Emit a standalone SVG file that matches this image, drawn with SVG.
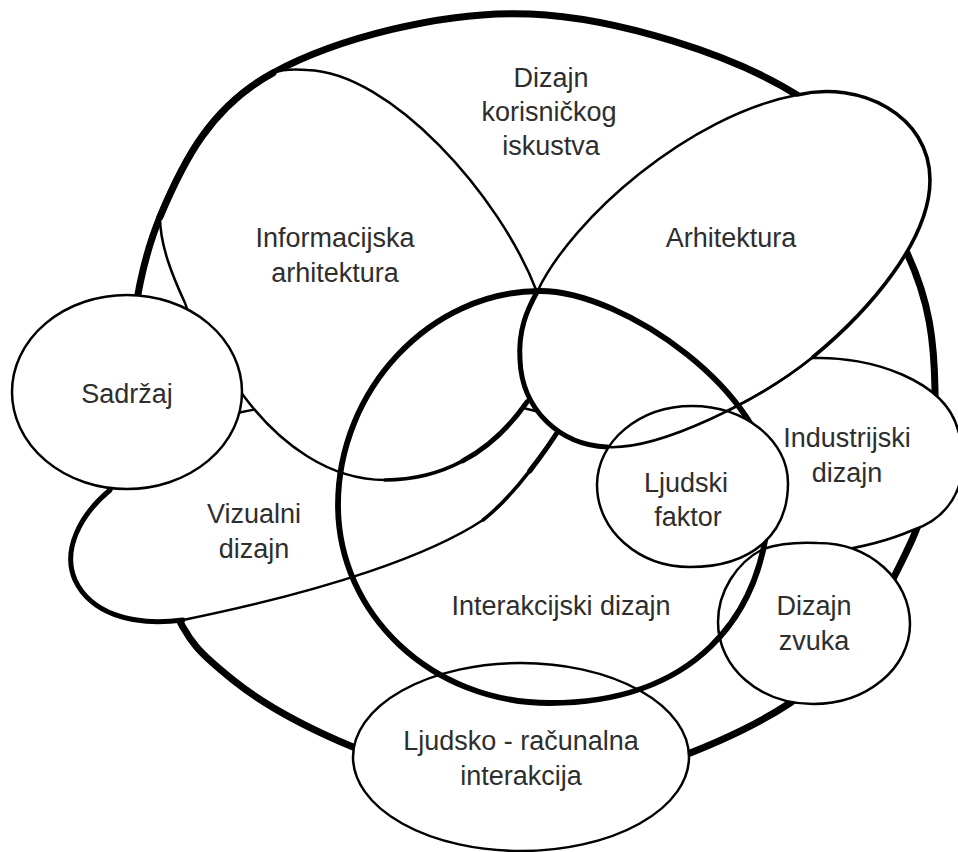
<svg xmlns="http://www.w3.org/2000/svg" width="958" height="852" viewBox="0 0 958 852">
<style>
.bg{fill:#fff}
.f{fill:#fff;stroke:none}
.n{fill:#fff;stroke:#000;stroke-width:2.5}
.s{fill:none;stroke:#000;stroke-width:2.5;stroke-linecap:round;stroke-linejoin:round}
.m{stroke-width:3.6}
.t{stroke-width:5}
.o{stroke-width:7}
.lbl{font-family:"Liberation Sans",Arial,sans-serif;font-size:27px;fill:#2e2e2e;text-anchor:middle}
</style>
<rect class="bg" x="0" y="0" width="958" height="852"/>

<g id="dizajn-korisnickog-iskustva">
<path class="s o" d="M160,217 C184.2,159.2 211.3,106.8 273,73 C334.7,39.2 442.7,10.3 530,14 C617.3,17.7 734.2,55.2 797,95 C859.8,134.8 884,203.8 907,253 C930,302.2 934.2,342.2 935,390 C935.8,437.8 936.2,487.8 912,540 C887.8,592.2 855.2,659.7 790,703 C724.8,746.3 593.8,792.7 521,800 C448.2,807.3 401,767 353,747 C305,727 263.5,704.5 233,680 C202.5,655.5 187.5,643.3 170,600 C152.5,556.7 129.7,483.8 128,420 C126.3,356.2 135.8,274.8 160,217 Z"/>
<text class="lbl" x="551" y="87">Dizajn</text>
<text class="lbl" x="549" y="121">korisničkog</text>
<text class="lbl" x="551" y="155">iskustva</text>
</g>

<g id="industrijski-dizajn">
<path class="f" d="M760,385 C780,370 795,359 813,358 C870,356 945,380 958,430 C972,470 958,515 913,530 C890,540 865,547 830,552 C790,558 730,540 720,490 C712,440 740,400 760,385 Z"/>
<path class="s" d="M760,385 C780,370 795,359 813,358 C870,356 945,380 958,430 C972,470 958,515 913,530 C890,540 865,547 830,552"/>
<text class="lbl" x="847" y="447">Industrijski</text>
<text class="lbl" x="847" y="482">dizajn</text>
</g>

<g id="vizualni-dizajn">
<path class="f" d="M565,420 C548,448 515,495 483,520 C430,555 330,590 183,620 C130,627 90,612 75,580 C62,550 80,515 110,490 C150,450 200,420 242,412 C320,395 470,385 565,420 Z"/>
<path class="s" d="M110,490 C150,450 200,420 242,412 C320,395 470,385 565,420"/>
<path class="s" d="M483,520 C430,555 330,590 183,620"/>
<path class="s t" d="M565,420 C556.5,434 544,452.75 529.6,471.1"/>
<path class="s m" d="M529.6,471.1 C515.25,489.5 499,507.5 483,520"/>
<path class="s t" d="M183,620 C130,627 90,612 75,580 C62,550 80,515 110,490"/>
<text class="lbl" x="254" y="523">Vizualni</text>
<text class="lbl" x="254" y="558">dizajn</text>
</g>

<g id="informacijska-arhitektura">
<path class="f" d="M307,70 C390,72 500,195 537,292 C548,330 545,375 527,402 C490,455 440,480 385,480 C330,480 280,445 243,395 C215,360 195,335 185,303 C172,275 160,245 160,217 C184.2,159.2 211.3,106.8 273,73 C283,69 295,69 307,70 Z"/>
<path class="s" d="M273,73 C283,69 295,69 307,70 C390,72 500,195 537,292 C548,330 545,375 527,402"/>
<path class="s t" d="M527,402 C508.5,428.5 486.75,448 462.75,460.9"/>
<path class="s m" d="M462.75,460.9 C438.75,473.75 412.5,480 385,480"/>
<path class="s" d="M385,480 C330,480 280,445 243,395 C215,360 195,335 185,303 C172,275 160,245 160,217"/>
<path class="s o" d="M160,217 C184.2,159.2 211.3,106.8 273,73"/>
<text class="lbl" x="335" y="247">Informacijska</text>
<text class="lbl" x="335" y="282">arhitektura</text>
</g>

<g id="arhitektura">
<path class="f" d="M537,292 C572,218 690,115 797,95 C860,80 930,115 930,180 C930,240 870,310 813,357 C760,400 660,450 607,447 C560,445 522,410 520,360 C518,330 527,310 537,292 Z"/>
<path class="s" d="M537,292 C572,218 690,115 797,95"/>
<path class="s m" d="M797,95 C860,80 930,115 930,180 C930,240 870,310 813,357"/>
<path class="s" d="M813,357 C760,400 660,450 607,447"/>
<path class="s t" d="M607,447 C560,445 522,410 520,360 C518,330 527,310 537,292"/>
<text class="lbl" x="731" y="247">Arhitektura</text>
</g>

<g id="sadrzaj">
<ellipse class="n" cx="127" cy="392" rx="115" ry="97"/>
<text class="lbl" x="127" y="403">Sadržaj</text>
</g>

<g id="dizajn-zvuka">
<path class="n" d="M718,622 C718,592 736,563 763,549 C781,543 800,542 818,543 C870,543 910,580 910,624 C910,668 867,704 813,704 C760,704 718,668 718,622 Z"/>
<text class="lbl" x="814" y="615">Dizajn</text>
<text class="lbl" x="814" y="650">zvuka</text>
</g>

<g id="ljudsko-racunalna-interakcija">
<ellipse class="n" cx="521" cy="757" rx="168" ry="94"/>
<text class="lbl" x="521" y="750">Ljudsko - računalna</text>
<text class="lbl" x="521" y="785">interakcija</text>
</g>

<g id="interakcijski-dizajn">
<path class="s" style="stroke-width:5.8" d="M540,291 C625,291 770,395 770,485 C770,625 685,703 550,703 C431,703 338,614 338,505 C338,390 430,291 540,291 Z"/>
<text class="lbl" x="561" y="615">Interakcijski dizajn</text>
</g>

<g id="ljudski-faktor">
<path class="n" d="M788,483 C788,535 751,567 690,567 C638.6,567 597,530.3 597,485 C597,441.4 639.5,406 692,406 C745,406 788,440.5 788,483 Z"/>
<text class="lbl" x="686" y="492">Ljudski</text>
<text class="lbl" x="688" y="526">faktor</text>
</g>

<g id="arhitektura-rub">
<path class="s" d="M813,357 C760,400 660,450 607,447"/>
</g>

<g id="connectors"></g>
</svg>
